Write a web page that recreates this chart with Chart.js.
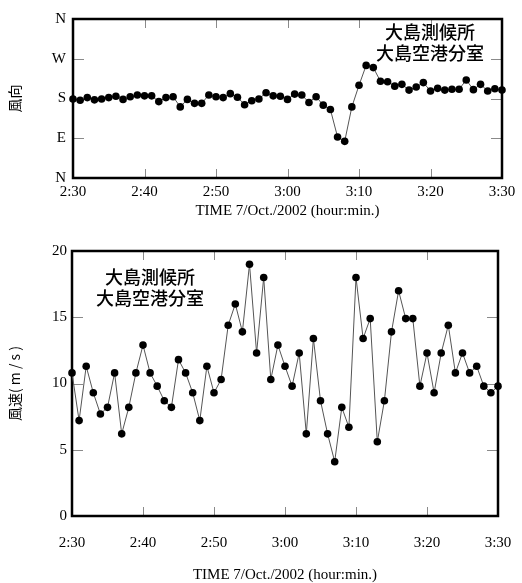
<!DOCTYPE html>
<html>
<head>
<meta charset="utf-8">
<script src="https://cdn.jsdelivr.net/npm/chart.js@4.4.1/dist/chart.umd.min.js"></script>
<style>
  html, body { margin: 0; padding: 0; background: #fff; overflow: hidden; }
  .box { position: absolute; left: 0; width: 522px; }
  #dirBox { top: 0; height: 228px; }
  #spdBox { top: 230px; height: 353px; }
</style>
</head>
<body>
<div class="box" id="dirBox"><canvas id="dirChart"></canvas></div>
<div class="box" id="spdBox"><canvas id="spdChart"></canvas></div>
<script>
const timeLabels = [
  "2:30", "2:31", "2:32", "2:33", "2:34", "2:35", "2:36", "2:37", "2:38", "2:39",
  "2:40", "2:41", "2:42", "2:43", "2:44", "2:45", "2:46", "2:47", "2:48", "2:49",
  "2:50", "2:51", "2:52", "2:53", "2:54", "2:55", "2:56", "2:57", "2:58", "2:59",
  "3:00", "3:01", "3:02", "3:03", "3:04", "3:05", "3:06", "3:07", "3:08", "3:09",
  "3:10", "3:11", "3:12", "3:13", "3:14", "3:15", "3:16", "3:17", "3:18", "3:19",
  "3:20", "3:21", "3:22", "3:23", "3:24", "3:25", "3:26", "3:27", "3:28", "3:29",
  "3:30",
];

// wind direction in degrees (0 = N, 90 = E, 180 = S, 270 = W)
const dirValues = [
  179, 176, 182, 177, 179, 182, 185, 178, 184, 188,
  186, 186, 173, 182, 184, 161, 178, 169, 169, 188,
  184, 182, 191, 183, 166, 175, 179, 193, 186, 185,
  178, 190, 188, 171, 184, 165, 155, 93, 83, 161,
  210, 255, 250, 219, 218, 208, 212, 199, 206, 216,
  197, 203, 199, 201, 201, 222, 200, 212, 197, 202,
  199,
];
const dirLabels = ["N", "E", "S", "W", "N"];

// wind speed m/s
const speedValues = [
  10.8, 7.2, 11.3, 9.3, 7.7, 8.2, 10.8, 6.2, 8.2, 10.8,
  12.9, 10.8, 9.8, 8.7, 8.2, 11.8, 10.8, 9.3, 7.2, 11.3,
  9.3, 10.3, 14.4, 16.0, 13.9, 19.0, 12.3, 18.0, 10.3, 12.9,
  11.3, 9.8, 12.3, 6.2, 13.4, 8.7, 6.2, 4.1, 8.2, 6.7,
  18.0, 13.4, 14.9, 5.6, 8.7, 13.9, 17.0, 14.9, 14.9, 9.8,
  12.3, 9.3, 12.3, 14.4, 10.8, 12.3, 10.8, 11.3, 9.8, 9.3,
  9.8,
];

const stationLines = ["大島測候所", "大島空港分室"];
const xTitle = "TIME 7/Oct./2002 (hour:min.)";

const serif = "'Liberation Serif', 'DejaVu Serif', serif";
const cjk = "'Noto Sans CJK JP', 'Noto Sans CJK SC', sans-serif";

// frame + inner tick marks, drawn before the points
const framePlugin = {
  id: "frame",
  beforeDatasetsDraw(chart) {
    const { ctx, chartArea: a, scales } = chart;
    ctx.save();
    ctx.strokeStyle = "#8a8a8a";
    ctx.lineWidth = 1;
    scales.x.ticks.forEach((t, i) => {
      if (i % 10 !== 0 || i === 0 || i === timeLabels.length - 1) return;
      const x = Math.round(scales.x.getPixelForTick(i)) + 0.5;
      ctx.beginPath();
      ctx.moveTo(x, a.top);
      ctx.lineTo(x, a.top + 9);
      ctx.moveTo(x, a.bottom);
      ctx.lineTo(x, a.bottom - 9);
      ctx.stroke();
    });
    const yt = scales.y.ticks;
    yt.forEach((t, i) => {
      if (i === 0 || i === yt.length - 1) return;
      const y = Math.round(scales.y.getPixelForValue(t.value)) + 0.5;
      ctx.beginPath();
      ctx.moveTo(a.left, y);
      ctx.lineTo(a.left + 11, y);
      ctx.moveTo(a.right, y);
      ctx.lineTo(a.right - 11, y);
      ctx.stroke();
    });
    ctx.strokeStyle = "#000";
    ctx.lineWidth = 2.5;
    ctx.strokeRect(a.left, a.top, a.right - a.left, a.bottom - a.top);
    ctx.restore();
  },
  afterDraw(chart) {
    const o = chart.options.plugins.frame;
    if (!o || !o.notes) return;
    const { ctx, chartArea: a } = chart;
    ctx.save();
    ctx.fillStyle = "#000";
    ctx.font = "500 18px " + cjk;
    ctx.textAlign = "center";
    ctx.textBaseline = "middle";
    const cx = o.fromRight ? a.right - o.dx : a.left + o.dx;
    o.notes.forEach((line, i) => {
      ctx.fillText(line, cx, a.top + o.dy + i * 21);
    });
    ctx.restore();
  },
};

function makeChart(id, cfg) {
  return new Chart(document.getElementById(id), {
    type: "line",
    data: {
      labels: timeLabels,
      datasets: [
        {
          data: cfg.values,
          borderColor: "#555",
          borderWidth: 1,
          tension: 0,
          pointRadius: 3.8,
          pointBackgroundColor: "#000",
          pointBorderColor: "#000",
          pointBorderWidth: 0,
          clip: false,
        },
      ],
    },
    options: {
      responsive: true,
      maintainAspectRatio: false,
      animation: false,
      layout: { padding: { top: cfg.padTop, right: cfg.padRight, left: 0, bottom: 0 } },
      plugins: {
        legend: { display: false },
        tooltip: { enabled: false },
        frame: cfg.notes,
      },
      scales: {
        x: {
          type: "category",
          grid: { display: false, drawTicks: false },
          border: { display: false },
          afterFit: (s) => {
            s.height = cfg.xHeight;
            s.paddingLeft = 0;
            s.paddingRight = 0;
          },
          ticks: {
            autoSkip: false,
            maxRotation: 0,
            padding: cfg.xPad,
            color: "#000",
            font: { family: serif, size: 15 },
            callback: (v, i) => (i % 10 === 0 ? timeLabels[i] : ""),
          },
          title: {
            display: true,
            text: xTitle,
            color: "#000",
            font: { family: serif, size: 15, lineHeight: 1 },
            padding: { top: 0, bottom: cfg.xTitlePad },
          },
        },
        y: {
          min: cfg.min,
          max: cfg.max,
          grid: { display: false, drawTicks: false },
          border: { display: false },
          afterFit: (s) => { s.width = cfg.yWidth; },
          ticks: {
            stepSize: cfg.step,
            padding: cfg.yPad,
            color: "#000",
            font: { family: serif, size: 15 },
            callback: cfg.yLabel,
          },
          title: {
            display: true,
            text: cfg.yTitle,
            color: "#000",
            font: { family: cjk, size: 14, lineHeight: 1 },
            padding: { top: 8, bottom: 0 },
          },
        },
      },
    },
    plugins: [framePlugin],
  });
}

makeChart("dirChart", {
  values: dirValues,
  min: 0,
  max: 360,
  step: 90,
  yLabel: (v) => dirLabels[v / 90],
  yTitle: "風向",
  padTop: 19,
  padRight: 20,
  yWidth: 73,
  xHeight: 50,
  xPad: 5,
  xTitlePad: 9,
  yPad: 7,
  notes: { notes: stationLines, fromRight: true, dx: 72, dy: 13 },
});

makeChart("spdChart", {
  values: speedValues,
  min: 0,
  max: 20,
  step: 5,
  yLabel: (v) => v,
  yTitle: "風速( m / s )",
  padTop: 21,
  padRight: 24,
  yWidth: 72,
  xHeight: 67,
  xPad: 18,
  xTitlePad: 0,
  yPad: 5,
  notes: { notes: stationLines, fromRight: false, dx: 78, dy: 26 },
});
</script>
</body>
</html>
